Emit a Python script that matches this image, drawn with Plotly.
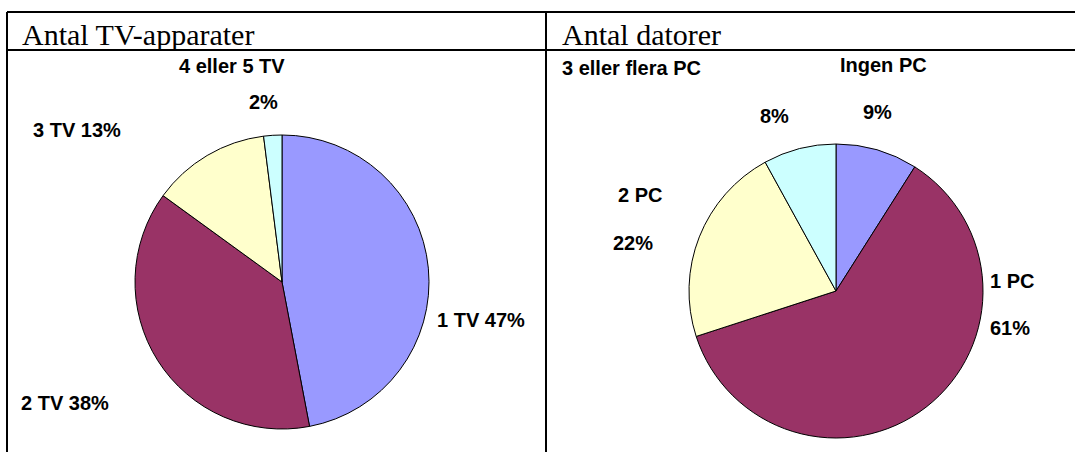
import plotly.graph_objects as go

W, H = 1075, 452

# Antal TV-apparater
tv_labels = ["1 TV", "2 TV", "3 TV", "4 eller 5 TV"]
tv_values = [47, 38, 13, 2]

# Antal datorer
pc_labels = ["Ingen PC", "1 PC", "2 PC", "3 eller flera PC"]
pc_values = [9, 61, 22, 8]

slice_colors = ["#9999FF", "#993366", "#FFFFCC", "#CCFFFF"]


def px(x):
    return x / W


def py(y):
    return 1 - y / H


def pie(labels, values, cx, cy, r):
    return go.Pie(
        labels=labels,
        values=values,
        sort=False,
        direction="clockwise",
        rotation=0,
        textinfo="none",
        hoverinfo="label+percent",
        marker=dict(colors=slice_colors, line=dict(color="black", width=1)),
        domain=dict(x=[px(cx - r), px(cx + r)], y=[py(cy + r), py(cy - r)]),
        showlegend=False,
    )


fig = go.Figure()
fig.add_trace(pie(tv_labels, tv_values, 282, 282, 147))
fig.add_trace(pie(pc_labels, pc_values, 836, 291, 147))

# Table grid
line = dict(color="black", width=2)
shapes = [
    dict(type="line", xref="paper", yref="paper", x0=px(7), x1=1, y0=py(12), y1=py(12), line=line),
    dict(type="line", xref="paper", yref="paper", x0=px(7), x1=1, y0=py(50), y1=py(50), line=line),
    dict(type="line", xref="paper", yref="paper", x0=px(7), x1=px(7), y0=py(12), y1=0, line=line),
    dict(type="line", xref="paper", yref="paper", x0=px(546), x1=px(546), y0=py(12), y1=0, line=line),
]

annotations = []


def note(text, x, y, size=20, family="Liberation Sans, Arial, sans-serif", bold=True):
    annotations.append(dict(
        text=f"<b>{text}</b>" if bold else text,
        x=px(x), y=py(y), xref="paper", yref="paper",
        xanchor="left", yanchor="middle", showarrow=False,
        font=dict(size=size, family=family, color="black"),
    ))


serif = "Liberation Serif, Times New Roman, serif"
note("Antal TV-apparater", 20, 34, size=30, family=serif, bold=False)
note("Antal datorer", 560, 34, size=30, family=serif, bold=False)

pct = lambda v: f"{v}%"

# TV labels
note(f"{tv_labels[0]} {pct(tv_values[0])}", 435, 320)
note(f"{tv_labels[1]} {pct(tv_values[1])}", 19, 403)
note(f"{tv_labels[2]} {pct(tv_values[2])}", 31, 130)
note(tv_labels[3], 177, 66)
note(pct(tv_values[3]), 247, 102)

# PC labels
note(pc_labels[0], 838, 65)
note(pct(pc_values[0]), 861, 112)
note(pc_labels[1], 988, 281)
note(pct(pc_values[1]), 988, 328)
note(pc_labels[2], 616, 195)
note(pct(pc_values[2]), 611, 243)
note(pc_labels[3], 560, 68)
note(pct(pc_values[3]), 758, 116)

fig.update_layout(
    width=W, height=H,
    margin=dict(l=0, r=0, t=0, b=0),
    paper_bgcolor="white",
    plot_bgcolor="white",
    shapes=shapes,
    annotations=annotations,
)

fig.write_html("out.html")
